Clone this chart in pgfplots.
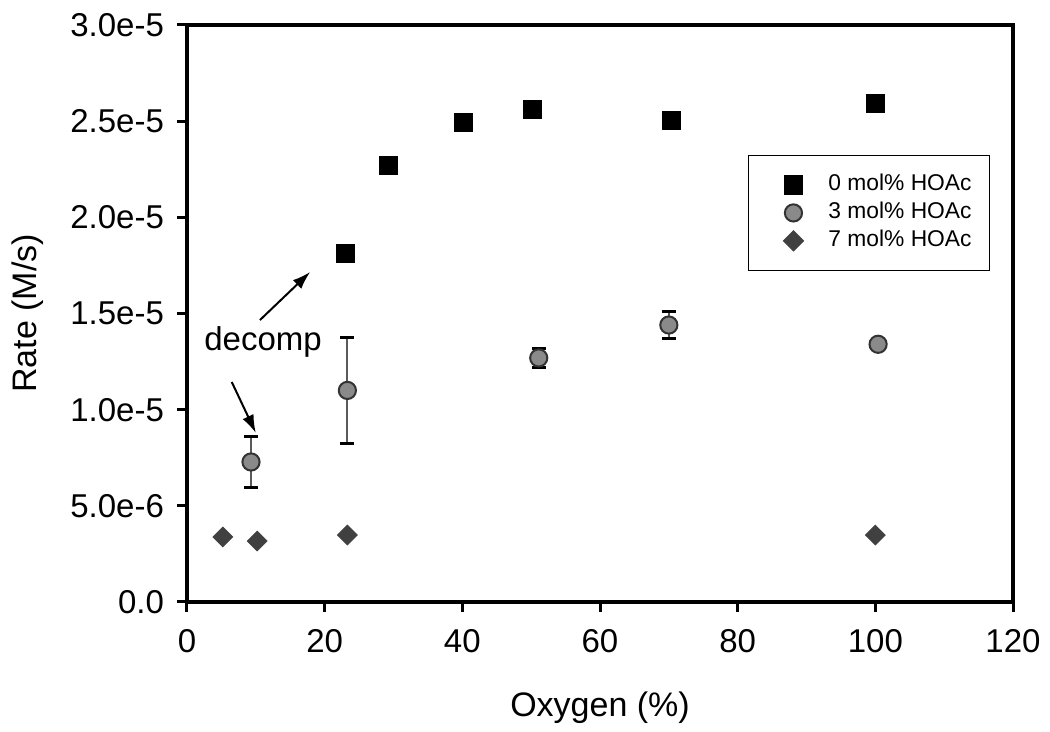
\documentclass[border=0pt]{standalone}
\usepackage{fontspec}
\setmainfont{Liberation Sans}
\usepackage{pgfplots}
\pgfplotsset{compat=1.18}
\usetikzlibrary{arrows.meta}
\definecolor{circfill}{HTML}{8A8A8A}
\definecolor{diafill}{HTML}{404040}
\definecolor{errcol}{HTML}{5A5A5A}
\pgfplotsset{myleg/.style={legend image code/.code={\path[draw=none,fill=none] (0pt,0pt) rectangle (20pt,0.01pt); \draw[##1] plot coordinates {(14.5pt,0pt)};}}}
\begin{document}
\begin{tikzpicture}
\begin{axis}[
  at={(0,0)}, anchor=south west,
  scale only axis, width=413pt, height=288.5pt,
  xmin=0, xmax=120, ymin=0, ymax=3e-5,
  axis line style={line width=2pt, black},
  xtick pos=bottom, ytick pos=left, tick align=outside,
  major tick length=5pt,
  tick style={line width=1.5pt, black},
  xtick={0,20,40,60,80,100,120},
  ytick={0,5e-6,1e-5,1.5e-5,2e-5,2.5e-5,3e-5},
  yticklabels={0.0,5.0e-6,1.0e-5,1.5e-5,2.0e-5,2.5e-5,3.0e-5},
  scaled y ticks=false,
  /pgf/number format/assume math mode=true,
  ticklabel style={font=\fontsize{16.5}{19}\selectfont},
  yticklabel style={xshift=-3pt},
  xticklabel style={yshift=-5pt},
  xlabel={Oxygen (\%)}, ylabel={Rate (M/s)},
  label style={font=\fontsize{17}{20}\selectfont},
  xlabel style={at={(axis description cs:0.5,-0.1837)}, anchor=center},
  ylabel style={at={(axis description cs:-0.1925,0.5)}, anchor=center, rotate=0},
  legend style={at={(axis description cs:0.679,0.775)}, anchor=north west,
    draw=black, line width=0.6pt, font=\fontsize{11.4}{13}\selectfont,
    inner xsep=8pt, inner ysep=8pt, row sep=0.5pt,
    nodes={inner sep=1pt, text height=8.5pt, text depth=3pt},
    /tikz/every odd column/.append style={column sep=11pt}},
  legend cell align=left,
  clip=false,
]
\addplot[only marks, mark=square*, mark size=4.5pt, mark options={fill=black, draw=black}, myleg]
  coordinates {(23,1.81e-5) (29.2,2.27e-5) (40.1,2.495e-5) (50.2,2.56e-5) (70.3,2.505e-5) (100,2.59e-5)};
\addlegendentry{0 mol\% HOAc}
\addplot[only marks, mark=*, mark size=4.3pt, mark options={fill=circfill, draw=black!80, line width=1pt}, myleg,
  error bars/.cd, y dir=both, y explicit,
  error bar style={line width=1pt, errcol},
  error mark options={rotate=90, mark size=3.5pt, line width=1.2pt, black}]
  table[x=x, y=y, y error=e] {
x y e
9.3 7.28e-6 1.33e-6
23.3 1.10e-5 2.75e-6
51.1 1.269e-5 0.5e-6
70 1.44e-5 0.7e-6
100.4 1.34e-5 0.15e-6
};
\addlegendentry{3 mol\% HOAc}
\addplot[only marks, mark=square*, mark size=3.5pt, mark options={rotate=45, fill=diafill, draw=diafill}, myleg]
  coordinates {(5.2,3.38e-6) (10.2,3.17e-6) (23.3,3.48e-6) (100,3.48e-6)};
\addlegendentry{7 mol\% HOAc}
\node[font=\fontsize{16.5}{19}\selectfont] at (axis cs:11.05,13.5e-6) {decomp};
\draw[line width=1pt, -{Latex[length=9pt, width=6pt]}] (axis cs:10.6,14.66e-6) -- (axis cs:17.9,17.16e-6);
\draw[line width=1pt, -{Latex[length=9pt, width=6pt]}] (axis cs:6.5,11.44e-6) -- (axis cs:10.0,8.79e-6);
\end{axis}
\pgfresetboundingbox
\path (-93.5pt,-65pt) rectangle (431.5pt,301pt);
\end{tikzpicture}
\end{document}
